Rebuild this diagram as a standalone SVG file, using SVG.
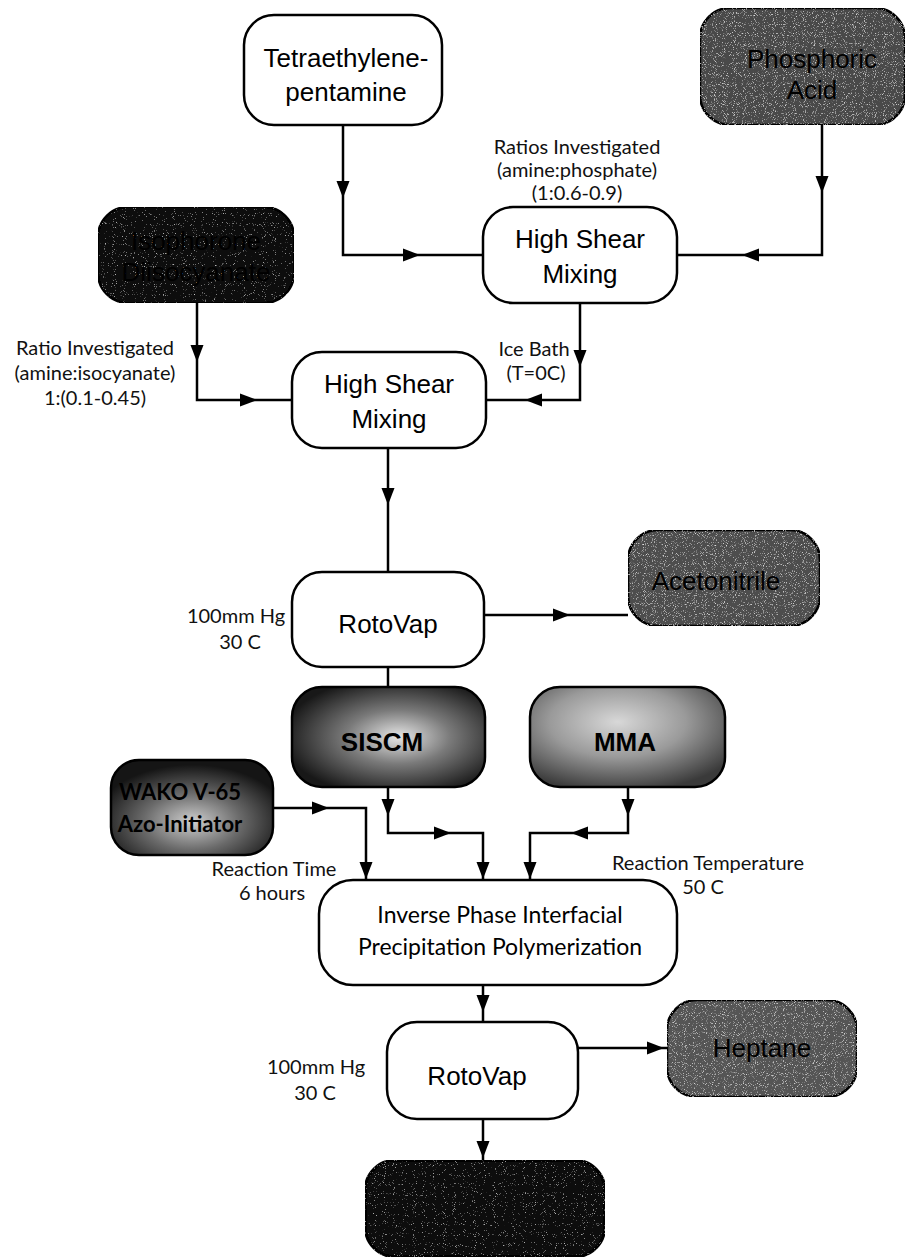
<svg xmlns="http://www.w3.org/2000/svg" width="908" height="1259" viewBox="0 0 908 1259">
  <style>
    .box { stroke: #000; stroke-width: 2.5; }
    .plain { fill: #fff; }
    .wire { fill: none; stroke: #000; stroke-width: 2.5; }
    .head { fill: #000; }
    .name { font-family: "Liberation Sans", Arial, sans-serif; font-size: 26px; text-anchor: middle; fill: #000; }
    .bold { font-weight: bold; }
    .note { font-family: Lato, "Open Sans", sans-serif; font-size: 20px; text-anchor: middle; fill: #111; }
    .step { font-family: Lato, "Open Sans", sans-serif; font-size: 23px; text-anchor: middle; fill: #000; }
  </style>
  <defs>
    <!-- arrowhead pointing right, tip at origin -->
    <path id="ah" class="head" d="M0,0 L-17,-6.5 L-17,6.5 Z"/>
    <radialGradient id="gSiscm" cx="0.55" cy="0.5" r="0.6">
      <stop offset="0" stop-color="#e6e6e6"/>
      <stop offset="0.45" stop-color="#7a7a7a"/>
      <stop offset="1" stop-color="#181818"/>
    </radialGradient>
    <radialGradient id="gMma" cx="0.45" cy="0.35" r="0.7">
      <stop offset="0" stop-color="#d8d8d8"/>
      <stop offset="0.5" stop-color="#9a9a9a"/>
      <stop offset="1" stop-color="#3a3a3a"/>
    </radialGradient>
    <radialGradient id="gWako" cx="0.5" cy="0.65" r="0.6">
      <stop offset="0" stop-color="#cfcfcf"/>
      <stop offset="0.5" stop-color="#6a6a6a"/>
      <stop offset="1" stop-color="#151515"/>
    </radialGradient>
    <!-- light speckle over the grey fills -->
    <filter id="grain" x="0" y="0" width="1" height="1">
      <feTurbulence type="fractalNoise" baseFrequency="1.1" numOctaves="1" seed="3" result="n"/>
      <feColorMatrix in="n" type="matrix" values="0 0 0 0 1  0 0 0 0 1  0 0 0 0 1  3 0 0 0 -1.75" result="dots"/>
      <feComposite in="dots" in2="SourceGraphic" operator="atop"/>
    </filter>
    <!-- sparser speckle for the near-black fills -->
    <filter id="grainDark" x="0" y="0" width="1" height="1">
      <feTurbulence type="fractalNoise" baseFrequency="1.1" numOctaves="1" seed="7" result="n"/>
      <feColorMatrix in="n" type="matrix" values="0 0 0 0 1  0 0 0 0 1  0 0 0 0 1  3 0 0 0 -1.95" result="dots"/>
      <feComposite in="dots" in2="SourceGraphic" operator="atop"/>
    </filter>
  </defs>

  <!-- connectors -->
  <g id="connectors">
    <path class="wire" d="M343,125 V255 H483"/>
    <use href="#ah" transform="translate(343,198) rotate(90)"/>
    <use href="#ah" transform="translate(420,255)"/>

    <path class="wire" d="M822,125 V255 H677"/>
    <use href="#ah" transform="translate(822,193) rotate(90)"/>
    <use href="#ah" transform="translate(742,255) rotate(180)"/>

    <path class="wire" d="M197,303 V400 H292"/>
    <use href="#ah" transform="translate(197,362) rotate(90)"/>
    <use href="#ah" transform="translate(257,400)"/>

    <path class="wire" d="M580,303 V400 H486"/>
    <use href="#ah" transform="translate(580,367) rotate(90)"/>
    <use href="#ah" transform="translate(525,400) rotate(180)"/>

    <path class="wire" d="M388,448 V572"/>
    <use href="#ah" transform="translate(388,505) rotate(90)"/>

    <path class="wire" d="M484,615 H628"/>
    <use href="#ah" transform="translate(570,615)"/>

    <path class="wire" d="M388,667 V687"/>

    <path class="wire" d="M273,808 H366 V880"/>
    <use href="#ah" transform="translate(329,808)"/>
    <use href="#ah" transform="translate(366,879) rotate(90)"/>

    <path class="wire" d="M388,787 V833 H483 V880"/>
    <use href="#ah" transform="translate(388,816) rotate(90)"/>
    <use href="#ah" transform="translate(451,833)"/>
    <use href="#ah" transform="translate(483,879) rotate(90)"/>

    <path class="wire" d="M628,787 V833 H530 V880"/>
    <use href="#ah" transform="translate(628,816) rotate(90)"/>
    <use href="#ah" transform="translate(571,833) rotate(180)"/>
    <use href="#ah" transform="translate(530,879) rotate(90)"/>

    <path class="wire" d="M483,985 V1022"/>
    <use href="#ah" transform="translate(483,1012) rotate(90)"/>

    <path class="wire" d="M578,1048 H667"/>
    <use href="#ah" transform="translate(664,1048)"/>

    <path class="wire" d="M483,1119 V1160"/>
    <use href="#ah" transform="translate(483,1158) rotate(90)"/>
  </g>

  <!-- condition notes -->
  <g id="notes">
    <text class="note" x="577" y="154">Ratios Investigated</text>
    <text class="note" x="577" y="177">(amine:phosphate)</text>
    <text class="note" x="577" y="200">(1:0.6-0.9)</text>

    <text class="note" x="95" y="355">Ratio Investigated</text>
    <text class="note" x="95" y="380">(amine:isocyanate)</text>
    <text class="note" x="95" y="405">1:(0.1-0.45)</text>

    <text class="note" x="534" y="356">Ice Bath</text>
    <text class="note" x="536" y="380">(T=0C)</text>

    <text class="note" x="236" y="623">100mm Hg</text>
    <text class="note" x="240" y="649">30 C</text>

    <text class="note" x="274" y="876">Reaction Time</text>
    <text class="note" x="272" y="900">6 hours</text>

    <text class="note" x="708" y="870">Reaction Temperature</text>
    <text class="note" x="703" y="894">50 C</text>

    <text class="note" x="316" y="1074">100mm Hg</text>
    <text class="note" x="315" y="1100">30 C</text>
  </g>

  <g id="tepa">
    <rect class="box plain" x="244" y="15" width="198" height="110" rx="30"/>
    <text class="name" x="346" y="67">Tetraethylene-</text>
    <text class="name" x="346" y="101">pentamine</text>
  </g>

  <g id="phosphoric-acid">
    <rect class="box" x="700" y="8" width="205" height="117" rx="30" fill="#4a4a4a" filter="url(#grain)"/>
    <text class="name" x="812" y="68" fill="#161616">Phosphoric</text>
    <text class="name" x="812" y="99" fill="#161616">Acid</text>
  </g>

  <g id="isocyanate">
    <rect class="box" x="98" y="207" width="196" height="96" rx="30" fill="#0e0e0e" filter="url(#grainDark)"/>
    <text class="name" x="196" y="250" fill="#050505">Isophorone</text>
    <text class="name" x="196" y="281" fill="#050505">Diisocyanate</text>
  </g>

  <g id="mixing-1">
    <rect class="box plain" x="483" y="207" width="194" height="96" rx="30"/>
    <text class="name" x="580" y="248">High Shear</text>
    <text class="name" x="580" y="283">Mixing</text>
  </g>

  <g id="mixing-2">
    <rect class="box plain" x="292" y="352" width="194" height="96" rx="30"/>
    <text class="name" x="389" y="393">High Shear</text>
    <text class="name" x="389" y="428">Mixing</text>
  </g>

  <g id="rotovap-1">
    <rect class="box plain" x="292" y="572" width="192" height="95" rx="30"/>
    <text class="name" x="388" y="633">RotoVap</text>
  </g>

  <g id="acetonitrile">
    <rect class="box" x="628" y="530" width="192" height="96" rx="30" fill="#4d4d4d" filter="url(#grain)"/>
    <text class="name" x="716" y="590" fill="#141414">Acetonitrile</text>
  </g>

  <g id="siscm">
    <rect class="box" x="292" y="687" width="193" height="100" rx="30" fill="url(#gSiscm)"/>
    <text class="name bold" x="382" y="751">SISCM</text>
  </g>

  <g id="mma">
    <rect class="box" x="530" y="687" width="195" height="100" rx="30" fill="url(#gMma)"/>
    <text class="name bold" x="625" y="751">MMA</text>
  </g>

  <g id="wako">
    <rect class="box" x="111" y="760" width="162" height="95" rx="28" fill="url(#gWako)"/>
    <text class="step bold" x="180" y="800" style="font-size:22px">WAKO V-65</text>
    <text class="step bold" x="180" y="832" style="font-size:22px">Azo-Initiator</text>
  </g>

  <g id="polymerization">
    <rect class="box plain" x="319" y="880" width="358" height="105" rx="34"/>
    <text class="step" x="500" y="923">Inverse Phase Interfacial</text>
    <text class="step" x="500" y="955">Precipitation Polymerization</text>
  </g>

  <g id="rotovap-2">
    <rect class="box plain" x="387" y="1022" width="191" height="97" rx="30"/>
    <text class="name" x="477" y="1085">RotoVap</text>
  </g>

  <g id="heptane">
    <rect class="box" x="667" y="1000" width="190" height="97" rx="30" fill="#555" filter="url(#grain)"/>
    <text class="name" x="762" y="1057" fill="#2a2a2a">Heptane</text>
  </g>

  <g id="product">
    <rect class="box" x="365" y="1160" width="240" height="97" rx="30" fill="#070707" filter="url(#grainDark)"/>
  </g>
</svg>
